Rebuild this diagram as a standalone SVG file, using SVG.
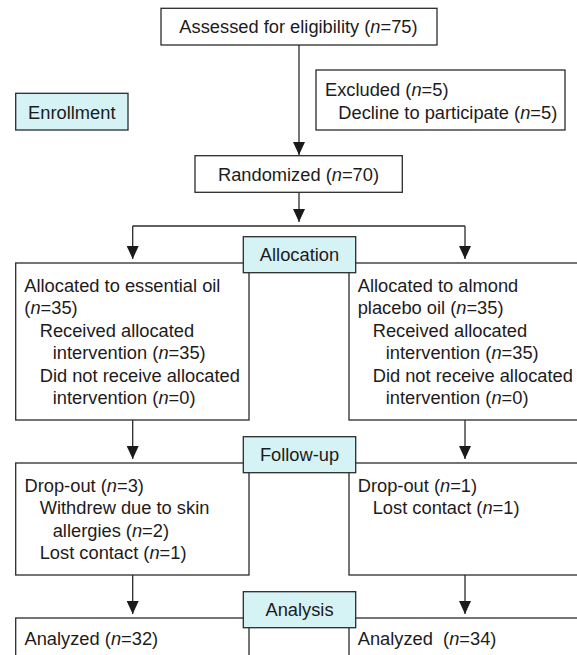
<svg xmlns="http://www.w3.org/2000/svg" width="577" height="655" viewBox="0 0 577 655">
<defs>
<style>
.box{fill:#ffffff;stroke:#2b2b2b;stroke-width:1.3}
.lbl{fill:#d5f2f5;stroke:#2b2b2b;stroke-width:1.3}
text{font-family:"Liberation Sans",Arial,Helvetica,sans-serif;font-size:18.3px;fill:#1e1b1c}
.c{text-anchor:middle}
.i{font-style:italic}
.ln{fill:none;stroke:#2b2b2b;stroke-width:1.3}
</style>
<marker id="ah" viewBox="0 0 13 12" refX="13" refY="6" markerWidth="13" markerHeight="12" markerUnits="userSpaceOnUse" orient="auto">
<path d="M0,0 L13,6 L0,12 z" fill="#1a1a1a"/>
</marker>
</defs>
<rect width="577" height="655" fill="#ffffff"/>

<g id="connectors">
<line class="ln" x1="299" y1="45" x2="299" y2="155" marker-end="url(#ah)"/>
<line class="ln" x1="299" y1="192" x2="299" y2="222" marker-end="url(#ah)"/>
<line class="ln" x1="132.7" y1="226" x2="465" y2="226"/>
<line class="ln" x1="132.7" y1="226" x2="132.7" y2="259" marker-end="url(#ah)"/>
<line class="ln" x1="465" y1="226" x2="465" y2="259" marker-end="url(#ah)"/>
<line class="ln" x1="132.7" y1="420" x2="132.7" y2="459" marker-end="url(#ah)"/>
<line class="ln" x1="465" y1="420" x2="465" y2="459" marker-end="url(#ah)"/>
<line class="ln" x1="132.7" y1="575" x2="132.7" y2="614" marker-end="url(#ah)"/>
<line class="ln" x1="465" y1="575" x2="465" y2="614" marker-end="url(#ah)"/>
</g>

<g id="assessed">
<rect class="box" x="161" y="8.3" width="276" height="36.7"/>
<text class="c" x="298.5" y="33.3">Assessed for eligibility (<tspan class="i">n</tspan>=75)</text>
</g>

<g id="enrollment">
<rect class="lbl" x="15.7" y="93.3" width="112.3" height="36.7"/>
<text class="c" x="71.8" y="119">Enrollment</text>
</g>

<g id="excluded">
<rect class="box" x="316" y="70" width="249" height="60"/>
<text x="325" y="96">Excluded (<tspan class="i">n</tspan>=5)</text>
<text x="338.3" y="119.3">Decline to participate (<tspan class="i">n</tspan>=5)</text>
</g>

<g id="randomized">
<rect class="box" x="195" y="155.7" width="207.3" height="36.6"/>
<text class="c" x="298.5" y="181.2">Randomized (<tspan class="i">n</tspan>=70)</text>
</g>

<g id="alloc-left">
<rect class="box" x="15.7" y="263" width="233.3" height="157"/>
<text x="24.3" y="291.7">Allocated to essential oil</text>
<text x="24.3" y="314.2">(<tspan class="i">n</tspan>=35)</text>
<text x="39.7" y="336.7">Received allocated</text>
<text x="52.7" y="359.2">intervention (<tspan class="i">n</tspan>=35)</text>
<text x="39.7" y="381.7">Did not receive allocated</text>
<text x="52.7" y="404.2">intervention (<tspan class="i">n</tspan>=0)</text>
</g>

<g id="alloc-right">
<rect class="box" x="349" y="263" width="240" height="157"/>
<text x="357.7" y="291.7">Allocated to almond</text>
<text x="357.7" y="314.2">placebo oil (<tspan class="i">n</tspan>=35)</text>
<text x="372.7" y="336.7">Received allocated</text>
<text x="385.7" y="359.2">intervention (<tspan class="i">n</tspan>=35)</text>
<text x="372.7" y="381.7">Did not receive allocated</text>
<text x="385.7" y="404.2">intervention (<tspan class="i">n</tspan>=0)</text>
</g>

<g id="allocation">
<rect class="lbl" x="243.3" y="236.7" width="112.4" height="36"/>
<text class="c" x="299.5" y="261">Allocation</text>
</g>

<g id="follow-left">
<rect class="box" x="15.7" y="463" width="233.3" height="112"/>
<text x="24.5" y="491.7">Drop-out (<tspan class="i">n</tspan>=3)</text>
<text x="39.7" y="514.2">Withdrew due to skin</text>
<text x="52.7" y="536.7">allergies (<tspan class="i">n</tspan>=2)</text>
<text x="39.7" y="559.2">Lost contact (<tspan class="i">n</tspan>=1)</text>
</g>

<g id="follow-right">
<rect class="box" x="349" y="463" width="240" height="112"/>
<text x="357.7" y="491.7">Drop-out (<tspan class="i">n</tspan>=1)</text>
<text x="372.7" y="514.2">Lost contact (<tspan class="i">n</tspan>=1)</text>
</g>

<g id="followup">
<rect class="lbl" x="243.3" y="436.7" width="112.4" height="36"/>
<text class="c" x="299.5" y="461">Follow-up</text>
</g>

<g id="analysis-left">
<rect class="box" x="15.7" y="618" width="233.3" height="60"/>
<text x="24.5" y="645">Analyzed (<tspan class="i">n</tspan>=32)</text>
</g>

<g id="analysis-right">
<rect class="box" x="349" y="618" width="240" height="60"/>
<text x="357.7" y="645">Analyzed&#160; (<tspan class="i">n</tspan>=34)</text>
</g>

<g id="analysis">
<rect class="lbl" x="243.3" y="591.7" width="112.4" height="36"/>
<text class="c" x="299.5" y="616">Analysis</text>
</g>
</svg>
